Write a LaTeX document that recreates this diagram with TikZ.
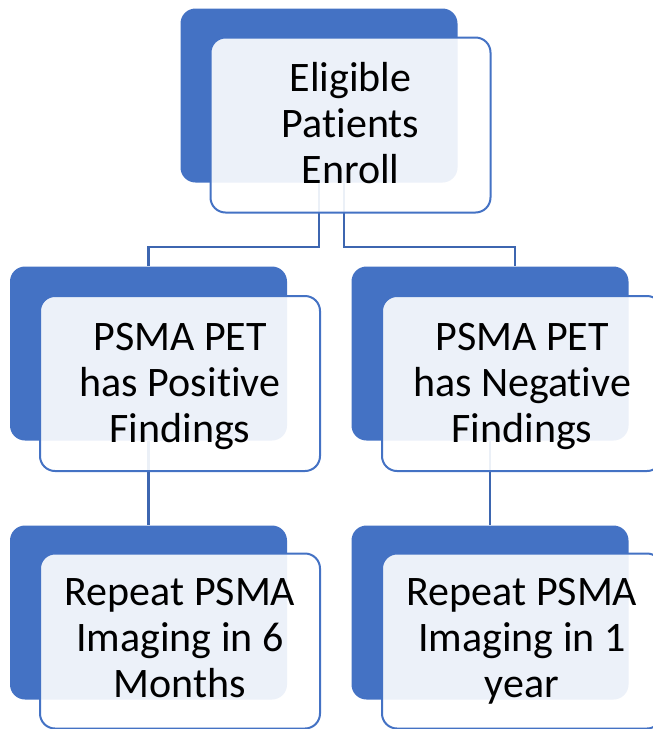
\documentclass[tikz,border=0pt]{standalone}
\usepackage{fontspec}
\setmainfont[RawFeature=-liga]{Carlito}
\definecolor{sablue}{HTML}{4472C4}
\definecolor{lnblue}{HTML}{3D66B0}
\begin{document}
\begin{tikzpicture}[x=1pt,y=-1pt,
  bluebox/.style={fill=sablue, draw=none, rounded corners=15pt, minimum width=277pt, minimum height=174pt, inner sep=0pt},
  frontbox/.style={draw=sablue, line width=2pt, fill=white, fill opacity=0.9, rounded corners=15pt, minimum width=280pt, minimum height=175pt, inner sep=0pt},
  txt/.style={font=\fontsize{42}{46}\selectfont, align=center, inner sep=0pt, anchor=north, text=black},
  conn/.style={draw=lnblue, line width=2.5pt}]
\clip (0,0) rectangle (653,729);
\useasboundingbox (0,0) rectangle (653,729);
% back (blue) boxes
\node[bluebox] (tb)  at (319,95.5) {};
\node[bluebox] (mlb) at (148.5,353.5) {};
\node[bluebox] (mrb) at (490,353.5) {};
\node[bluebox] (blb) at (148.5,612.5) {};
\node[bluebox] (brb) at (490,612.5) {};
% connectors
\draw[conn] (tb.south) -- ++(0,-64.5pt) -| (mlb.north);
\draw[conn] ([xshift=25pt]tb.south) -- ++(0,-64.5pt) -| ([xshift=25pt]mrb.north);
\draw[conn] (mlb.south) -- (blb.north);
\draw[conn] (mrb.south) -- (brb.north);
% front boxes
\node[frontbox] (tf)  at (350.5,125) {};
\node[frontbox] (mlf) at (180,383.5) {};
\node[frontbox] (mrf) at (522,383.5) {};
\node[frontbox] (blf) at (180,641) {};
\node[frontbox] (brf) at (522,641) {};
% texts
\node[txt] (tt)  at ([yshift=-21pt]tf.north)  {\rule{0pt}{34pt}Eligible\\Patients\\Enroll};
\node[txt] (mlt) at ([yshift=-21pt]mlf.north) {\rule{0pt}{34pt}PSMA PET\\has Positive\\Findings};
\node[txt] (mrt) at ([yshift=-21pt]mrf.north) {\rule{0pt}{34pt}PSMA PET\\has Negative\\Findings};
\node[txt] (blt) at ([yshift=-19pt]blf.north) {\rule{0pt}{34pt}Repeat PSMA\\Imaging in 6\\Months};
\node[txt] (brt) at ([yshift=-19pt]brf.north) {\rule{0pt}{34pt}Repeat PSMA\\Imaging in 1\\year};
\end{tikzpicture}
\end{document}
